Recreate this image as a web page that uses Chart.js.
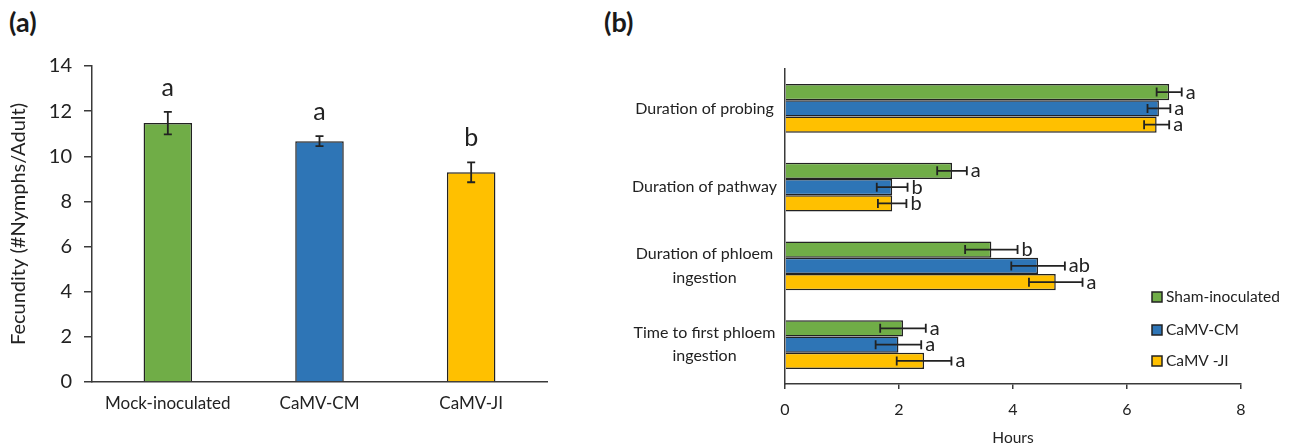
<!DOCTYPE html>
<html lang="en">
<head>
    <meta charset="UTF-8">
    <meta name="viewport" content="width=device-width, initial-scale=1.0">
    <title>Fecundity and feeding behaviour</title>
    <script src="https://cdn.jsdelivr.net/npm/chart.js"></script>
    <style>
        body { margin: 0; background: #ffffff; width: 1293px; height: 447px; overflow: hidden; position: relative; font-family: Lato, sans-serif; }
        .panel-label { position: absolute; top: 5px; font-family: Lato, sans-serif; font-weight: bold; font-size: 27px; color: #1a1a1a; }
        #wrapA { position: absolute; left: 0; top: 0; width: 600px; height: 447px; }
        #wrapB { position: absolute; left: 600px; top: 0; width: 693px; height: 447px; }
    </style>
</head>
<body>
    <div class="panel-label" style="left:9px;">(a)</div>
    <div class="panel-label" style="left:604px;">(b)</div>
    <div id="wrapA"><canvas id="fecundityChart" width="600" height="447"></canvas></div>
    <div id="wrapB"><canvas id="epgChart" width="693" height="447"></canvas></div>

    <script>
        // (a) fecundity
        const fecCategories = ['Mock-inoculated', 'CaMV-CM', 'CaMV-JI'];
        const fecMeans = [11.47, 10.67, 9.29];
        const fecErrors = [0.50, 0.22, 0.44];
        const fecLetters = ['a', 'a', 'b'];

        // (b) EPG feeding parameters (hours)
        const epgCategories = [['Duration of probing'], ['Duration of pathway'], ['Duration of phloem', 'ingestion'], ['Time to first phloem', 'ingestion']];
        const epgSeries = ['Sham-inoculated', 'CaMV-CM', 'CaMV -JI'];
        const shamHours = [6.74, 2.93, 3.62, 2.07];
        const cmHours = [6.56, 1.88, 4.44, 1.99];
        const jiHours = [6.52, 1.88, 4.75, 2.44];
        const shamErr = [0.22, 0.26, 0.46, 0.40];
        const cmErr = [0.20, 0.27, 0.47, 0.40];
        const jiErr = [0.22, 0.25, 0.47, 0.48];
        const shamLetters = ['a', 'a', 'b', 'a'];
        const cmLetters = ['a', 'b', 'ab', 'a'];
        const jiLetters = ['a', 'b', 'a', 'a'];

        const green = '#70AD47', blue = '#2E75B6', yellow = '#FFC000';
        const ink = '#222222';
        const axisColor = '#3a3a3a';
        const fontFamily = 'Lato, sans-serif';

        // error bars + significance letters, works for vertical and horizontal bars
        const errorBarPlugin = {
            id: 'errorBars',
            afterDatasetsDraw(chart, args, opts) {
                const ctx = chart.ctx;
                const horizontal = chart.options.indexAxis === 'y';
                const valueScale = horizontal ? chart.scales.x : chart.scales.y;
                chart.data.datasets.forEach((ds, di) => {
                    const meta = chart.getDatasetMeta(di);
                    meta.data.forEach((bar, i) => {
                        const v = ds.data[i], e = ds.errors[i];
                        const lo = valueScale.getPixelForValue(v - e);
                        const hi = valueScale.getPixelForValue(v + e);
                        ctx.save();
                        ctx.strokeStyle = ink;
                        ctx.lineWidth = 1.8;
                        ctx.beginPath();
                        if (horizontal) {
                            const y = bar.y;
                            ctx.moveTo(lo, y); ctx.lineTo(hi, y);
                            ctx.moveTo(lo, y - opts.cap); ctx.lineTo(lo, y + opts.cap);
                            ctx.moveTo(hi, y - opts.cap); ctx.lineTo(hi, y + opts.cap);
                        } else {
                            const x = bar.x;
                            ctx.moveTo(x, lo); ctx.lineTo(x, hi);
                            ctx.moveTo(x - opts.cap, lo); ctx.lineTo(x + opts.cap, lo);
                            ctx.moveTo(x - opts.cap, hi); ctx.lineTo(x + opts.cap, hi);
                        }
                        ctx.stroke();
                        ctx.fillStyle = ink;
                        ctx.font = opts.letterSize + 'px ' + fontFamily;
                        if (horizontal) {
                            ctx.textAlign = 'left';
                            ctx.textBaseline = 'middle';
                            ctx.fillText(ds.letters[i], hi + 4, bar.y);
                        } else {
                            ctx.textAlign = 'center';
                            ctx.textBaseline = 'alphabetic';
                            ctx.fillText(ds.letters[i], bar.x, hi - 16);
                        }
                        ctx.restore();
                    });
                });
            }
        };

        // legend drawn inside the plot, lower right
        const boxLegendPlugin = {
            id: 'boxLegend',
            afterDraw(chart) {
                const ctx = chart.ctx;
                const area = chart.chartArea;
                const left = area.right - 89;
                const tops = [297, 330, 361];
                chart.data.datasets.forEach((ds, di) => {
                    const cy = tops[di];
                    ctx.save();
                    ctx.fillStyle = ds.backgroundColor;
                    ctx.strokeStyle = ink;
                    ctx.lineWidth = 1.5;
                    ctx.fillRect(left, cy - 5, 10, 10);
                    ctx.strokeRect(left, cy - 5, 10, 10);
                    ctx.fillStyle = ink;
                    ctx.font = '15.5px ' + fontFamily;
                    ctx.textAlign = 'left';
                    ctx.textBaseline = 'middle';
                    ctx.fillText(ds.label, left + 14, cy);
                    ctx.restore();
                });
            }
        };

        new Chart(document.getElementById('fecundityChart'), {
            type: 'bar',
            data: {
                labels: fecCategories,
                datasets: [{
                    data: fecMeans,
                    errors: fecErrors,
                    letters: fecLetters,
                    backgroundColor: [green, blue, yellow],
                    borderColor: ink,
                    borderWidth: 1.5,
                    categoryPercentage: 0.32,
                    barPercentage: 1.0
                }]
            },
            options: {
                responsive: false,
                animation: false,
                layout: { padding: { left: 4, right: 53, top: 66, bottom: 0 } },
                plugins: {
                    legend: { display: false },
                    tooltip: { enabled: false },
                    errorBars: { cap: 4, letterSize: 25 }
                },
                scales: {
                    x: {
                        grid: { display: true, drawOnChartArea: false, drawTicks: false },
                        border: { color: axisColor, width: 1.5 },
                        ticks: { color: ink, font: { size: 17, family: fontFamily }, padding: 11 },
                        afterFit: s => { s.height = 65; }
                    },
                    y: {
                        min: 0,
                        max: 14,
                        ticks: { stepSize: 2, color: ink, font: { size: 20, family: fontFamily }, padding: 12 },
                        grid: { drawOnChartArea: false, tickLength: 8, color: axisColor, lineWidth: 1.5 },
                        border: { color: axisColor, width: 1.5 },
                        title: { display: true, text: 'Fecundity (#Nymphs/Adult)', color: ink, font: { size: 20, family: fontFamily }, padding: { top: 3, bottom: 4 } },
                        afterFit: s => { s.width = 88; }
                    }
                }
            },
            plugins: [errorBarPlugin]
        });

        new Chart(document.getElementById('epgChart'), {
            type: 'bar',
            data: {
                labels: epgCategories,
                datasets: [
                    { label: epgSeries[0], data: shamHours, errors: shamErr, letters: shamLetters, backgroundColor: green },
                    { label: epgSeries[1], data: cmHours, errors: cmErr, letters: cmLetters, backgroundColor: blue },
                    { label: epgSeries[2], data: jiHours, errors: jiErr, letters: jiLetters, backgroundColor: yellow }
                ]
            },
            options: {
                indexAxis: 'y',
                responsive: false,
                animation: false,
                datasets: { bar: { categoryPercentage: 0.62, barPercentage: 1.0, borderColor: ink, borderWidth: 1.5 } },
                layout: { padding: { left: 0, right: 52, top: 69, bottom: 0 } },
                plugins: {
                    legend: { display: false },
                    tooltip: { enabled: false },
                    errorBars: { cap: 4.5, letterSize: 20 }
                },
                scales: {
                    x: {
                        min: 0,
                        max: 8,
                        ticks: { stepSize: 2, color: ink, font: { size: 16, family: fontFamily }, padding: 11 },
                        grid: { drawOnChartArea: false, tickLength: 5, color: axisColor, lineWidth: 1.5 },
                        border: { color: axisColor, width: 1.5 },
                        title: { display: true, text: 'Hours', color: ink, font: { size: 15.5, family: fontFamily }, padding: { top: 4, bottom: 0 } },
                        afterFit: s => { s.height = 63; }
                    },
                    y: {
                        ticks: { crossAlign: 'center', color: ink, font: { size: 16, family: fontFamily, lineHeight: 1.45 }, padding: 8 },
                        grid: { drawOnChartArea: false, drawTicks: false },
                        border: { color: axisColor, width: 1.5 },
                        afterFit: s => { s.width = 185; }
                    }
                }
            },
            plugins: [errorBarPlugin, boxLegendPlugin]
        });
    </script>
</body>
</html>
